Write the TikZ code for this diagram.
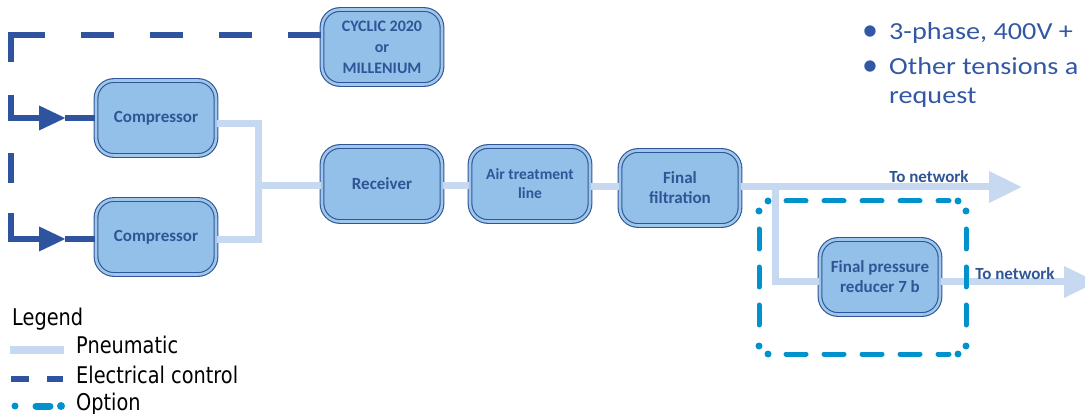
\documentclass[tikz,border=0pt]{standalone}
\usepackage{fontspec}
\setmainfont{Carlito}
\newfontfamily\legfont{DejaVu Sans}[FakeStretch=0.84]
\newfontfamily\bulfont{Carlito}[FakeStretch=1.15]
\usetikzlibrary{arrows.meta,calc}
\definecolor{dkblue}{RGB}{47,85,151}
\definecolor{boxfill}{RGB}{146,192,232}
\definecolor{boxband}{RGB}{158,199,235}
\definecolor{pneucol}{RGB}{198,217,240}
\definecolor{elecol}{RGB}{46,84,160}
\definecolor{optcol}{RGB}{0,146,204}
\definecolor{bultxt}{RGB}{50,88,165}
\begin{document}
\begin{tikzpicture}[x=1pt,y=-1pt,
  box/.style={draw=dkblue, line width=1.1pt, double=boxband, double distance=2.6pt,
    fill=boxfill, rounded corners=18pt, minimum width=120pt, minimum height=75pt,
    align=center, text=dkblue, inner sep=0pt,
    font=\fontsize{17}{20}\selectfont\bfseries},
  pneu/.style={draw=pneucol, line width=7pt},
  pneutip/.style={-{Triangle[length=33pt,width=30pt,fill=pneucol]}},
  elec/.style={draw=elecol, line width=6.5pt},
  electip/.style={-{Triangle[length=27pt,width=23pt,fill=elecol]}},
  optline/.style={draw=optcol, line width=5pt, line cap=round, dash pattern=on 20pt off 18pt},
  optdot/.style={fill=optcol},
  netlbl/.style={text=dkblue, inner sep=0pt, font=\fontsize{17}{20}\selectfont\bfseries},
  legtxt/.style={anchor=base west, inner sep=0pt, font=\legfont\fontsize{23}{28}\selectfont},
  bultext/.style={anchor=base west, inner sep=0pt, text=bultxt, font=\bulfont\fontsize{24.5}{30}\selectfont},
  bulmark/.style={anchor=base, inner sep=0pt, text=bultxt, font=\fontsize{32}{34}\selectfont}
]
\useasboundingbox (0,0) rectangle (1085,414);
\clip (0,0) rectangle (1085,414);

% boxes
\node[box, font=\fontsize{16}{21}\selectfont\bfseries] (cyc) at (382,47) {CYCLIC 2020\\or\\MILLENIUM};
\node[box] (comp1) at (156,118) {Compressor};
\node[box] (comp2) at (156,237) {Compressor};
\node[box] (rec) at (382,184) {Receiver};
\node[box, font=\fontsize{15.5}{19}\selectfont\bfseries] (air) at (530,184) {Air treatment\\line};
\node[box] (filt) at (680,188) {Final\\filtration};
\node[box] (red) at (880,277) {Final pressure\\reducer 7 b};

% pneumatic connectors
\coordinate (j) at (258,186);
\coordinate (b) at (775,187);
\coordinate (nw1) at (1022,187);
\coordinate (nw2) at (1097,282);
\draw[pneu] ([yshift=-6pt]comp1.east) -| (j);
\draw[pneu] ([yshift=-3pt]comp2.east) -| (j);
\draw[pneu] (j) -- (j -| rec.west);
\draw[pneu] ([yshift=-2pt]rec.east) -- ([yshift=-2pt]rec.east -| air.west);
\draw[pneu] ([yshift=-3pt]air.east) -- ([yshift=-3pt]air.east -| filt.west);
\draw[pneu, pneutip] (b -| filt.east) -- (nw1);
\draw[pneu] (b) |- ([yshift=-5pt]red.west);
\draw[pneu, pneutip] ([yshift=-5pt]red.east) -- (nw2);

% electrical control
\coordinate (ec) at ([yshift=12pt]cyc.west);
\coordinate (c1) at (11,35);
\coordinate (c2) at (11,63);
\draw[elec, dash pattern=on 33pt off 36pt on 33pt off 36pt on 33pt off 36pt on 33pt off 36pt on 61pt off 200pt]
  (ec) -- (c1) -- (c2);
\coordinate (v1) at (11,95);
\coordinate (t1) at (66,118);
\draw[elec, electip] (v1) |- (t1);
\draw[elec] ([xshift=-1pt]t1) -- (comp1.west);
\coordinate (v2a) at (11,153);
\coordinate (v2b) at (11,183);
\draw[elec] (v2a) -- (v2b);
\coordinate (v3) at (11,213);
\coordinate (t2) at (66,239);
\draw[elec, electip] (v3) |- (t2);
\draw[elec] ([xshift=-1pt]t2) -- (t2 -| comp2.west);

% network labels
\node[netlbl] (lbl1) at (929,177) {To network};
\node[netlbl] (lbl2) at (1015,274) {To network};

% option box
\coordinate (o1) at (768,201); \coordinate (o2) at (958,201);
\coordinate (o3) at (966,211); \coordinate (o4) at (966,346);
\coordinate (o5) at (958,354); \coordinate (o6) at (768,354);
\coordinate (o7) at (759,346); \coordinate (o8) at (759,211);
\foreach \p in {o1,o2,o3,o4,o5,o6,o7,o8} \fill[optdot] (\p) circle (3.5pt);
\draw[optline] ([xshift=18pt]o1) -- ([xshift=-9pt]o2);
\draw[optline] ([yshift=-18pt]o3) -- ([yshift=9pt]o4);
\draw[optline] ([xshift=18pt]o6) -- ([xshift=-9pt]o5);
\draw[optline] ([yshift=-18pt]o8) -- ([yshift=9pt]o7);

% bullets
\node[bulmark] (m1) at (870,41) {•};
\node[bultext] (bt1) at (889,40) {3-phase, 400V +};
\node[bulmark] (m2) at (870,76) {•};
\node[bultext] (bt2) at (889,75) {Other tensions a};
\node[bultext] (bt3) at (889,104) {request};

% legend
\node[legtxt] (lg) at (12,325) {Legend};
\coordinate (lp1) at (10,350); \coordinate (lp2) at (64,350);
\draw[pneu, line width=8pt] (lp1) -- (lp2);
\node[legtxt] (lgp) at (76,353) {Pneumatic};
\coordinate (le1) at (11,379); \coordinate (le2) at (29,379);
\coordinate (le3) at (47,379); \coordinate (le4) at (63,379);
\draw[elec] (le1) -- (le2);
\draw[elec] (le3) -- (le4);
\node[legtxt] (lge) at (76,383) {Electrical control};
\coordinate (lo1) at (15,406); \coordinate (lo2) at (36,406);
\coordinate (lo3) at (50,406); \coordinate (lo4) at (61,406);
\fill[optdot] (lo1) circle (3.5pt);
\draw[optline, line width=7pt, dash pattern=] (lo2) -- (lo3);
\fill[optdot] (lo4) circle (4pt);
\node[legtxt] (lgo) at (76,410) {Option};
\end{tikzpicture}
\end{document}
